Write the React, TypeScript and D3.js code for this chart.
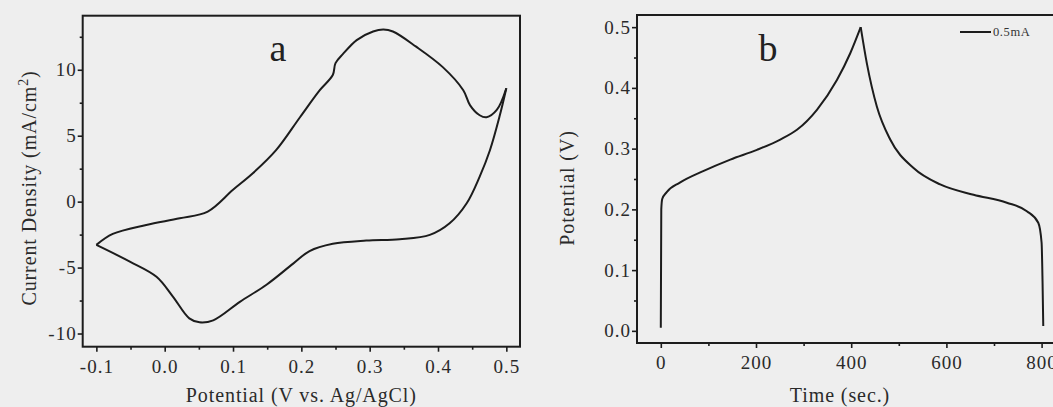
import React, { useEffect, useRef } from 'react';
import * as d3 from 'd3';

// panel a: cyclic voltammogram, anodic (forward) and cathodic (reverse) sweeps
const cvForwardPotential = [-0.1, -0.076, -0.027, 0.022, 0.063, 0.1, 0.129, 0.163, 0.198, 0.227, 0.246, 0.25, 0.261, 0.281, 0.305, 0.32, 0.334, 0.368, 0.407, 0.437, 0.447, 0.461, 0.471, 0.486, 0.5];
const cvForwardCurrent = [-3.28, -2.45, -1.77, -1.26, -0.75, 0.9, 2.15, 3.9, 6.4, 8.45, 9.6, 10.5, 11.2, 12.25, 12.9, 13.05, 12.9, 11.75, 10.2, 8.45, 7.3, 6.55, 6.4, 6.95, 8.6];
const cvReversePotential = [0.5, 0.49, 0.476, 0.461, 0.442, 0.417, 0.388, 0.344, 0.295, 0.246, 0.212, 0.188, 0.149, 0.11, 0.071, 0.051, 0.036, 0.012, -0.012, -0.051, -0.1];
const cvReverseCurrent = [8.6, 6.45, 3.9, 1.9, -0.12, -1.64, -2.52, -2.85, -2.95, -3.2, -3.75, -4.7, -6.3, -7.6, -9.0, -9.15, -8.85, -7.2, -5.7, -4.55, -3.28];

// panel b: galvanostatic charge / discharge at 0.5 mA
const chargeTime = [0, 1, 3, 12, 40, 89, 146, 202, 251, 286, 328, 370, 398, 420];
const chargePotential = [0.005, 0.2, 0.217, 0.228, 0.244, 0.263, 0.282, 0.298, 0.315, 0.331, 0.364, 0.413, 0.457, 0.5];
const dischargeTime = [420, 433, 454, 482, 531, 587, 657, 727, 769, 793, 800, 802, 803.5];
const dischargePotential = [0.5, 0.44, 0.369, 0.315, 0.268, 0.241, 0.224, 0.211, 0.197, 0.178, 0.145, 0.08, 0.008];

const cvXTicks = [-0.1, 0, 0.1, 0.2, 0.3, 0.4, 0.5];
const cvXMinor = [-0.05, 0.05, 0.15, 0.25, 0.35, 0.45];
const cvYTicks = [-10, -5, 0, 5, 10];
const cvYMinor = [-7.5, -2.5, 2.5, 7.5, 12.5];
const gcdXTicks = [0, 200, 400, 600, 800];
const gcdXMinor = [100, 300, 500, 700];
const gcdYTicks = [0, 0.1, 0.2, 0.3, 0.4, 0.5];
const gcdYMinor = [0.05, 0.15, 0.25, 0.35, 0.45];

const FONT = '"Liberation Serif", "DejaVu Serif", serif';
const INK = '#1c1c1c';

function drawPanel(svg, opts) {
  const { x, y, xTicks, xMinor, yTicks, yMinor, xFmt, yFmt, series, label, labelX, xTitle, yTitle, yTitleX, curves } = opts;
  const [x0, x1] = x.range();
  const [y0, y1] = y.range();
  const g = svg.append('g');

  const xAxis = d3.axisBottom(x).tickValues(xTicks).tickFormat(xFmt).tickSize(5).tickPadding(8);
  const xAxisMinor = d3.axisBottom(x).tickValues(xMinor).tickFormat(() => '').tickSize(3);
  const yAxis = d3.axisLeft(y).tickValues(yTicks).tickFormat(yFmt).tickSize(5).tickPadding(1);
  const yAxisMinor = d3.axisLeft(y).tickValues(yMinor).tickFormat(() => '').tickSize(3);

  [
    g.append('g').attr('transform', `translate(0,${y0})`).call(xAxis),
    g.append('g').attr('transform', `translate(0,${y0})`).call(xAxisMinor),
    g.append('g').attr('transform', `translate(${x0},0)`).call(yAxis),
    g.append('g').attr('transform', `translate(${x0},0)`).call(yAxisMinor),
  ].forEach((a) => {
    a.select('.domain').remove();
    a.selectAll('line').attr('stroke', INK).attr('stroke-width', 1.6);
    a.selectAll('text').attr('font-family', FONT).attr('font-size', 19)
      .attr('letter-spacing', 1).attr('fill', '#2a2a2a');
  });

  g.append('rect')
    .attr('x', x0).attr('y', y1)
    .attr('width', x1 - x0).attr('height', y0 - y1)
    .attr('fill', 'none').attr('stroke', INK).attr('stroke-width', 2);

  series.forEach(([xs, ys], k) => {
    const pts = xs.map((v, i) => [v, ys[i]]);
    g.append('path')
      .datum(pts)
      .attr('fill', 'none')
      .attr('stroke', INK)
      .attr('stroke-width', 2)
      .attr('stroke-linejoin', 'round')
      .attr('d', d3.line().x((d) => x(d[0])).y((d) => y(d[1])).curve(curves[k])(pts));
  });

  g.append('text').attr('x', labelX).attr('y', 61).attr('text-anchor', 'middle')
    .attr('font-family', FONT).attr('font-size', 38).attr('fill', '#222').text(label);

  g.append('text').attr('x', (x0 + Math.min(x1, 1043)) / 2).attr('y', 402).attr('text-anchor', 'middle')
    .attr('font-family', FONT).attr('font-size', 20).attr('letter-spacing', 0.9)
    .attr('fill', '#2a2a2a').text(xTitle);

  const yt = g.append('text')
    .attr('transform', `translate(${yTitleX},188) rotate(-90)`)
    .attr('text-anchor', 'middle')
    .attr('font-family', FONT).attr('font-size', 20).attr('letter-spacing', 0.9)
    .attr('fill', '#2a2a2a');
  yTitle(yt);
  return g;
}

export default function App() {
  const ref = useRef(null);

  useEffect(() => {
    const svg = d3.select(ref.current);
    svg.selectAll('*').remove();

    svg.append('rect').attr('width', 1053).attr('height', 407).attr('fill', '#eeeeee');

    const dash = (v) => (v < 0 ? '-' : '') + Math.abs(v);
    const oneDec = (v) => (v < 0 ? '-' : '') + Math.abs(v).toFixed(1);

    // panel a
    drawPanel(svg, {
      x: d3.scaleLinear().domain([-0.12, 0.52]).range([82.7, 520]),
      y: d3.scaleLinear().domain([-11, 14.1]).range([346.7, 15.7]),
      xTicks: cvXTicks, xMinor: cvXMinor, yTicks: cvYTicks, yMinor: cvYMinor,
      xFmt: oneDec, yFmt: dash,
      series: [[cvForwardPotential, cvForwardCurrent], [cvReversePotential, cvReverseCurrent]],
      curves: [d3.curveCatmullRom.alpha(0.5), d3.curveCatmullRom.alpha(0.5)],
      label: 'a', labelX: 278,
      xTitle: 'Potential (V vs. Ag/AgCl)',
      yTitleX: 36,
      yTitle: (t) => {
        t.append('tspan').text('Current Density (mA/cm');
        t.append('tspan').attr('font-size', 14).attr('dy', -8).text('2');
        t.append('tspan').attr('dy', 8).text(')');
      },
    });

    // panel b
    const gb = drawPanel(svg, {
      x: d3.scaleLinear().domain([-50, 850]).range([637, 1065.4]),
      y: d3.scaleLinear().domain([-0.02, 0.52]).range([343, 15]),
      xTicks: gcdXTicks, xMinor: gcdXMinor, yTicks: gcdYTicks, yMinor: gcdYMinor,
      xFmt: (v) => String(v), yFmt: oneDec,
      series: [[chargeTime, chargePotential], [dischargeTime, dischargePotential]],
      curves: [d3.curveMonotoneX, d3.curveMonotoneX],
      label: 'b', labelX: 768,
      xTitle: 'Time (sec.)',
      yTitleX: 574,
      yTitle: (t) => t.text('Potential (V)'),
    });

    gb.append('line').attr('x1', 960).attr('x2', 991).attr('y1', 32).attr('y2', 32)
      .attr('stroke', INK).attr('stroke-width', 2);
    gb.append('text').attr('x', 993).attr('y', 36)
      .attr('font-family', FONT).attr('font-size', 12.5).attr('letter-spacing', 0.6)
      .attr('fill', '#333').text('0.5mA');
  }, []);

  return (
    <div style={{ position: 'absolute', left: 0, top: 0 }}>
      <svg ref={ref} width={1053} height={407} style={{ display: 'block' }} />
    </div>
  );
}
